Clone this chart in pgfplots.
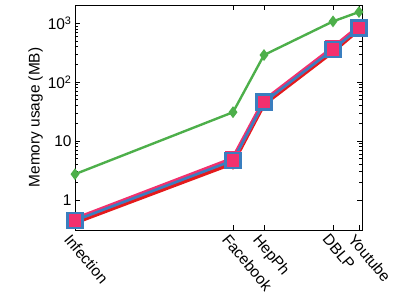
\documentclass[border=0pt]{standalone}
\usepackage{pgfplots}
\pgfplotsset{compat=1.18}
\usepackage{fontspec}
\setmainfont{Liberation Sans}
\definecolor{cgreen}{HTML}{4DAF4A}
\definecolor{cred}{HTML}{E41A1C}
\definecolor{cpink}{HTML}{F2306E}
\definecolor{cblue}{HTML}{3A7EBF}
\begin{document}
\begin{tikzpicture}
\begin{axis}[
  scale only axis,
  width=287bp, height=225bp,
  ymode=log,
  xmin=0, xmax=287,
  ymin=0.31, ymax=2050,
  xtick={0,158,189,258,284},
  xticklabels={Infection,Facebook,HepPh,DBLP,Youtube},
  x tick label style={rotate=-50, anchor=north west, inner sep=1pt, xshift=-1pt, yshift=-3pt},
  ytick={1,10,100,1000},
  yticklabels={1,10,10\textsuperscript{2},10\textsuperscript{3}},
  minor ytick={},
  tick align=inside,
  tick style={black, line width=1pt},
  major tick length=5bp,
  axis line style={black, line width=1pt},
  ylabel={Memory usage (MB)},
  ylabel style={yshift=-2pt},
  font=\fontsize{15.5}{18}\selectfont,
  /pgf/number format/assume math mode=true,
  clip=false,
]
\addplot[cgreen, line width=2.4pt, mark=diamond*, mark size=4pt] coordinates {
 (0,2.75) (158,31) (189,290) (258,1080) (284,1560)};
\addplot[cred, line width=3.5pt, mark=asterisk, mark size=6pt, mark options={line width=2pt}] coordinates {
 (0,0.41) (158,4.2) (189,42) (258,330) (284,780)};
\addplot[cpink, line width=4.5pt, mark=square*, mark size=5.5pt] coordinates {
 (0,0.47) (158,5.0) (189,48) (258,380) (284,870)};
\addplot[cblue, line width=2.6pt, mark=square, mark size=7.5pt, mark options={line width=2.4pt}] coordinates {
 (0,0.45) (158,4.7) (189,46) (258,360) (284,830)};
\end{axis}
\pgfresetboundingbox
\useasboundingbox (-75bp,-72bp) rectangle (334bp,230bp);
\end{tikzpicture}
\end{document}
